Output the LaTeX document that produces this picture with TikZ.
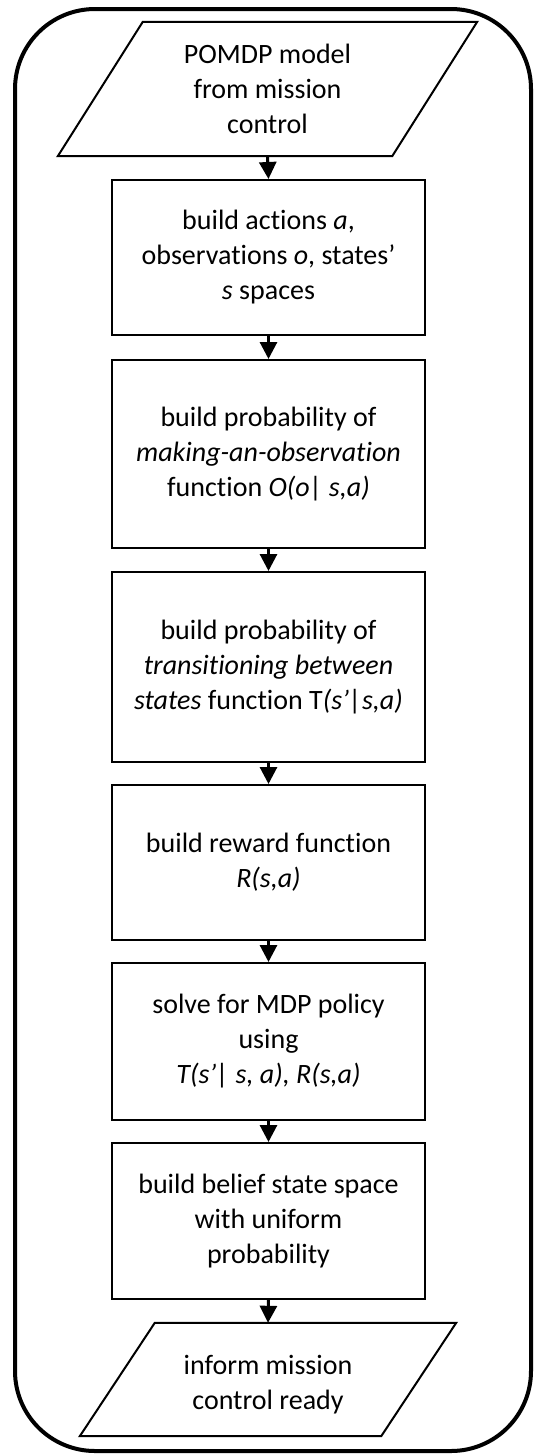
\documentclass[tikz,border=0pt]{standalone}
\usepackage{fontspec}
\setmainfont{Carlito}[Ligatures=NoCommon]
\usetikzlibrary{arrows.meta}
\begin{document}
\begin{tikzpicture}[x=1pt,y=-1pt,
  txt/.style={font=\fontsize{28}{35}\selectfont, align=center, inner sep=0pt},
  stepbox/.style={txt, draw, line width=2pt, minimum width=313pt},
  iobox/.style={txt, minimum width=#1},
  ioshape/.style={line width=2pt, line join=miter},
  flow/.style={line width=3pt, -{Triangle[length=17pt,width=17pt]}},
  frame/.style={line width=4pt, rounded corners=80pt}]
\useasboundingbox (0,0) rectangle (538,1454);

% surrounding frame
\draw[frame] (15,9) rectangle (531,1451);

% input: model from mission control
\node[iobox=334pt, minimum height=134pt] (p1) at (267.5,89)
  {POMDP model\\from mission\\control};
\draw[ioshape] ([xshift=42.5pt]p1.north west) -- ([xshift=42.5pt]p1.north east)
  -- ([xshift=-42.5pt]p1.south east) -- ([xshift=-42.5pt]p1.south west) -- cycle;

% processing steps
\node[stepbox, minimum height=155pt] (b1) at (268.5,257.5)
  {build actions \textit{a},\\observations \textit{o}, states’\\\textit{s} spaces};
\node[stepbox, minimum height=188pt] (b2) at (268.5,454)
  {build probability of\\\textit{making-an-observation}\\function \textit{O(o| s,a)}};
\node[stepbox, minimum height=190pt] (b3) at (268.5,667)
  {build probability of\\\textit{transitioning between}\\\textit{states} function T\textit{(s’|s,a)}};
\node[stepbox, minimum height=155pt] (b4) at (268.5,862.5)
  {build reward function\\\textit{R(s,a)}};
\node[stepbox, minimum height=157pt] (b5) at (268.5,1041.5)
  {solve for MDP policy\\using\\\textit{T(s’| s, a), R(s,a)}};
\node[stepbox, minimum height=156pt] (b6) at (268.5,1221)
  {build belief state space\\with uniform\\probability};

% output: report to mission control (text sits a little below centre)
\node[iobox=301pt, minimum height=113pt] (p2) at (268,1379.5)
  {\rule{0pt}{30pt}inform mission\\control ready};
\draw[ioshape] ([xshift=37.5pt]p2.north west) -- ([xshift=37.5pt]p2.north east)
  -- ([xshift=-37.5pt]p2.south east) -- ([xshift=-37.5pt]p2.south west) -- cycle;

% connectors
\draw[flow] (p1.south) -- (b1.north);
\draw[flow] (b1.south) -- (b2.north);
\draw[flow] (b2.south) -- (b3.north);
\draw[flow] (b3.south) -- (b4.north);
\draw[flow] (b4.south) -- (b5.north);
\draw[flow] (b5.south) -- (b6.north);
\draw[flow] (b6.south) -- (p2.north);
\end{tikzpicture}
\end{document}
